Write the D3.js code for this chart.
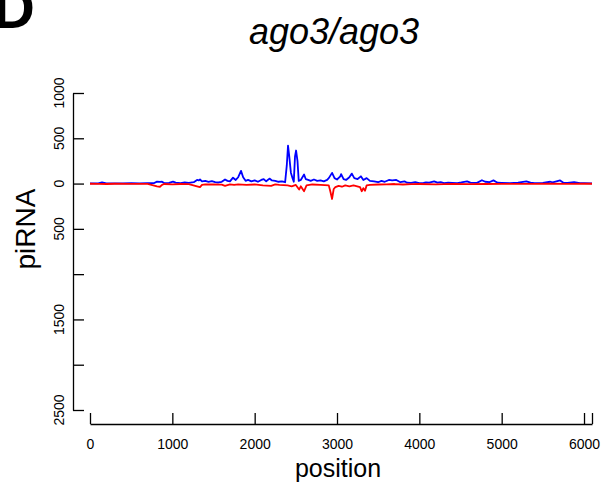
<!DOCTYPE html>
<html><head><meta charset="utf-8">
<script src="https://cdn.jsdelivr.net/npm/d3@7"></script>
<style>body{margin:0;background:#fff}svg{display:block;font-family:"Liberation Sans",Arial,sans-serif}</style>
</head><body><svg id="c" width="602" height="483"></svg>
<script>
const senseX = [0,100,146,200,300,400,500,600,700,780,814,850,875,900,960,1008,1040,1100,1150,1200,1260,1300,1320,1336,1360,1400,1440,1480,1520,1560,1600,1640,1670,1700,1737,1770,1800,1834,1860,1890,1920,1960,2000,2040,2080,2110,2140,2180,2210,2250,2290,2330,2370,2390,2405,2420,2440,2460,2475,2490,2503,2520,2535,2560,2600,2620,2650,2680,2720,2760,2800,2840,2880,2900,2940,2970,3000,3040,3050,3080,3110,3150,3180,3210,3250,3290,3320,3360,3400,3450,3500,3540,3580,3630,3670,3720,3770,3820,3850,3900,3950,4000,4050,4080,4120,4180,4220,4260,4300,4350,4400,4460,4510,4580,4620,4700,4760,4800,4850,4900,4950,5000,5100,5200,5300,5350,5400,5500,5590,5620,5710,5750,5800,5880,5950,6000,6097];
const senseY = [2,3,12,2,3,2,4,3,5,6,22,18,20,5,8,22,10,6,12,8,15,40,35,45,25,30,20,28,15,12,20,45,30,25,65,40,70,140,70,30,40,25,35,20,40,50,25,55,35,30,20,25,15,200,420,300,120,60,20,300,365,250,30,40,100,50,40,30,45,30,35,25,40,60,118,60,45,80,105,50,40,70,110,60,50,80,40,60,30,25,15,30,20,40,35,40,15,25,10,8,15,5,8,12,10,25,10,15,6,10,8,5,12,25,10,8,37,20,15,35,10,8,5,10,25,10,5,8,20,12,35,10,8,15,5,6,3];
const antiX = [0,100,200,300,500,700,814,850,875,900,1000,1100,1200,1300,1336,1360,1400,1500,1600,1640,1700,1750,1800,1900,2000,2100,2200,2250,2300,2400,2450,2500,2540,2560,2600,2630,2700,2800,2900,2920,2940,2960,2980,3020,3060,3100,3150,3200,3280,3300,3320,3340,3360,3400,3500,3600,3700,3800,3900,4000,4200,4400,4600,4800,5000,5200,5400,5600,5800,6000,6097];
const antiY = [-2,-3,-5,-2,-3,-4,-30,-35,-15,-5,-8,-5,-6,-30,-40,-15,-8,-10,-12,-25,-10,-15,-8,-15,-10,-20,-25,-10,-15,-20,-30,-15,-66,-30,-85,-20,-10,-15,-20,-90,-170,-60,-40,-25,-35,-20,-30,-20,-40,-85,-50,-80,-20,-15,-10,-8,-5,-10,-6,-5,-8,-4,-6,-5,-3,-4,-3,-2,-3,-2,-2];
const xTicks = [0,1000,2000,3000,4000,5000,6000,6097];
const xTickLabels = ["0","1000","2000","3000","4000","5000","6000",""];
const yTicks = [1000,500,0,-500,-1000,-1500,-2000,-2500];
const yTickLabels = ["1000","500","0","500","","1500","","2500"];
const title = "ago3/ago3", panel = "D", xLabel = "position", yLabel = "piRNA";

const svg = d3.select("#c");
const x = d3.scaleLinear().domain([0, 6097]).range([90, 592]);
const y = d3.scaleLinear().domain([-2500, 1000]).range([410, 93]);

const line = d3.line().x((d,i)=>x(d[0])).y(d=>y(d[1]));
svg.append("path").datum(senseX.map((v,i)=>[v,senseY[i]]))
  .attr("d", line).attr("fill","none").attr("stroke","#0000ff").attr("stroke-width",1.8).attr("stroke-linejoin","round");
svg.append("path").datum(antiX.map((v,i)=>[v,antiY[i]]))
  .attr("d", line).attr("fill","none").attr("stroke","#ff0000").attr("stroke-width",1.8).attr("stroke-linejoin","round");

const gx = svg.append("g").attr("transform","translate(0,424)")
  .call(d3.axisBottom(x).tickValues(xTicks).tickSizeInner(-11).tickSizeOuter(0).tickPadding(15)
    .tickFormat((d,i)=>xTickLabels[i]));
gx.selectAll("text").attr("font-size",14).attr("font-family","Liberation Sans, Arial, sans-serif").attr("fill","#000");
gx.selectAll("line,path").attr("stroke","#000").attr("stroke-width",1.3);

const gy = svg.append("g").attr("transform","translate(73,0)")
  .call(d3.axisLeft(y).tickValues(yTicks).tickSizeInner(-11).tickSizeOuter(0).tickFormat(""));
gy.selectAll("line,path").attr("stroke","#000").attr("stroke-width",1.3);
svg.append("g").selectAll("text").data(yTicks).join("text")
  .attr("transform",(d)=>`translate(64,${y(d)}) rotate(-90)`)
  .attr("text-anchor","middle").attr("font-size",14)
  .text((d,i)=>yTickLabels[i]);

svg.append("text").attr("x",338).attr("y",477).attr("text-anchor","middle").attr("font-size",25).text(xLabel);
svg.append("text").attr("transform","translate(35,229) rotate(-90)").attr("text-anchor","middle").attr("font-size",28).text(yLabel);
svg.append("text").attr("x",334).attr("y",44).attr("text-anchor","middle").attr("font-size",36).attr("font-style","italic").text(title);
svg.append("text").attr("x",-7).attr("y",28).attr("font-size",58).attr("font-weight","bold").text(panel);
</script></body></html>
